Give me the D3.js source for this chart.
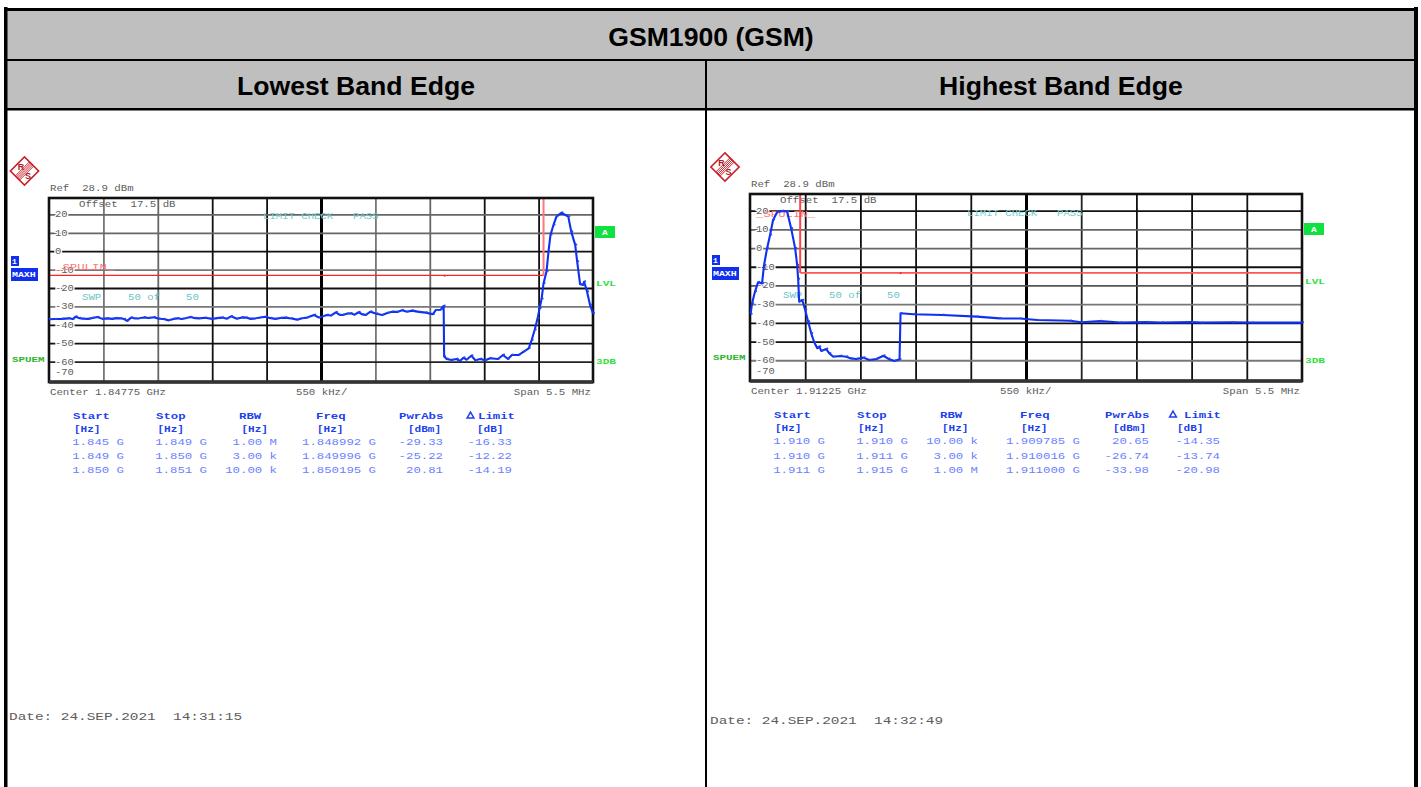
<!DOCTYPE html>
<html>
  <head>
    <meta charset="utf-8">
    <style>
      html, body {
        margin:0;
        padding:0;
        background:#fff;
      }
      svg {
        display:block;
      }
      .mono {
        font-family:"Liberation Mono", monospace;
        white-space:pre;
      }
      .head {
        font-family:"Liberation Sans", Arial, sans-serif;
        font-weight:bold;
        font-size:26.6px;
        fill:#000;
        text-anchor:middle;
      }
      .axis .domain {
        display:none;
      }
    </style>
  </head>
  <body>
    <div class="graph"></div>
    <script src="https://d3js.org/d3.v7.min.js" type="text/javascript"></script>
    <script>
      // levels, MHz / dBm
      var lowFreq = [1845.00, 1845.06, 1845.13, 1845.20, 1845.24, 1845.27, 1845.31, 1845.34, 1845.40, 1845.44,
        1845.49, 1845.54, 1845.59, 1845.64, 1845.68, 1845.72, 1845.76, 1845.79, 1845.83, 1845.87,
        1845.91, 1845.96, 1846.01, 1846.06, 1846.11, 1846.16, 1846.21, 1846.26, 1846.30, 1846.34,
        1846.38, 1846.43, 1846.48, 1846.52, 1846.58, 1846.65, 1846.70, 1846.75, 1846.80, 1846.84,
        1846.90, 1846.95, 1846.99, 1847.04, 1847.09, 1847.14, 1847.19, 1847.24, 1847.29, 1847.34,
        1847.39, 1847.45, 1847.51, 1847.56, 1847.61, 1847.68, 1847.73, 1847.77, 1847.81, 1847.85,
        1847.90, 1847.94, 1847.97, 1848.01, 1848.05, 1848.09, 1848.13, 1848.17, 1848.20, 1848.25,
        1848.31, 1848.37, 1848.42, 1848.47, 1848.52, 1848.57, 1848.62, 1848.67, 1848.74, 1848.81,
        1848.88, 1848.91, 1848.96, 1848.99,
        1848.995, 1849.02, 1849.07, 1849.12, 1849.155, 1849.19, 1849.22, 1849.27, 1849.31, 1849.36,
        1849.41, 1849.46, 1849.54, 1849.59, 1849.64, 1849.68, 1849.75, 1849.80, 1849.85, 1849.88,
        1849.91, 1849.94, 1849.96, 1849.98, 1850.00, 1850.03, 1850.05, 1850.07, 1850.10, 1850.13,
        1850.18, 1850.25, 1850.28, 1850.32, 1850.34, 1850.37, 1850.40, 1850.41, 1850.44, 1850.47, 1850.50];
      var lowLevel = [-37.0, -36.9, -36.8, -36.5, -36.9, -35.6, -36.4, -36.7, -36.8, -36.3,
        -35.8, -36.8, -36.5, -36.8, -36.4, -36.5, -36.9, -37.9, -36.1, -36.6,
        -36.5, -36.0, -36.3, -35.9, -36.7, -36.9, -37.6, -36.8, -36.5, -36.9,
        -36.5, -35.8, -36.4, -36.5, -36.2, -36.8, -36.4, -36.1, -36.7, -35.4,
        -36.7, -36.0, -36.1, -36.8, -36.5, -36.0, -35.6, -36.4, -36.8, -36.3,
        -36.1, -36.6, -37.2, -36.5, -36.1, -34.7, -36.1, -35.4, -34.7, -35.0,
        -33.2, -34.6, -34.7, -34.0, -33.8, -34.5, -33.2, -34.4, -34.7, -32.9,
        -34.0, -34.7, -33.6, -32.9, -33.0, -32.1, -32.9, -32.3, -33.0, -33.4,
        -34.3, -32.0, -31.8, -29.8,
        -57.3, -58.6, -59.1, -58.6, -59.7, -57.9, -59.0, -56.8, -59.3, -58.6,
        -59.3, -58.2, -58.6, -56.4, -58.6, -56.4, -56.4, -54.6, -52.8, -48.3,
        -42.8, -36.5, -31.1, -26.0, -17.5, -11.1, -0.3, 8.8, 14.2, 18.8,
        20.9, 18.8, 10.6, 3.4, -5.7, -18.0, -18.4, -16.6, -22.0, -29.2, -33.8];

      var highFreq = [1909.506, 1909.52, 1909.55, 1909.58, 1909.62, 1909.64, 1909.67, 1909.70, 1909.73, 1909.77,
        1909.82, 1909.87, 1909.91, 1909.95, 1909.97, 1909.98, 1909.99, 1910.02, 1910.05, 1910.08,
        1910.11, 1910.14, 1910.17, 1910.19, 1910.21, 1910.26, 1910.29, 1910.33, 1910.40, 1910.46,
        1910.50, 1910.56, 1910.63, 1910.69, 1910.76, 1910.83, 1910.88, 1910.94, 1910.99, 1911.00,
        1911.13, 1911.42, 1911.76, 1911.99, 1912.19, 1912.36, 1912.69, 1912.80, 1912.99, 1913.19,
        1913.45, 1913.60, 1913.90, 1914.00, 1914.30, 1914.50, 1915.00];
      var highLevel = [-35.3, -29.6, -23.3, -18.3, -18.9, -9.1, -0.2, 7.0, 15.0, 19.1,
        19.8, 19.5, 10.5, -0.2, -9.1, -16.6, -28.7, -27.8, -33.1, -39.4,
        -45.6, -50.4, -53.6, -52.7, -55.0, -54.0, -56.3, -58.1, -57.7, -58.1,
        -59.0, -59.3, -58.6, -59.9, -59.3, -57.6, -59.3, -60.4, -59.5, -34.9,
        -35.4, -35.8, -36.7, -37.6, -37.7, -38.5, -38.9, -39.7, -39.1, -39.8,
        -39.6, -39.8, -39.6, -39.9, -39.7, -39.9, -39.9];

      var lowLimitFreq = [1845, 1850, 1850];
      var lowLimitLevel = [-13.2, -13.2, 28.9];
      var highLimitFreq = [1910, 1910, 1915];
      var highLimitLevel = [28.9, -13.3, -13.3];
      var lowLimitMark = [1849, -13.4];
      var highLimitMark = [1911, -13.5];

      var levelTicks = [20, 10, 0, -10, -20, -30, -40, -50, -60];

      var tableHead = ["Start", "Stop", "RBW", "Freq", "PwrAbs", "Limit"];
      var tableUnit = ["[Hz]", "[Hz]", "[Hz]", "[Hz]", "[dBm]", "[dB]"];
      var lowRows = [
        ["1.845 G", "1.849 G", "1.00 M", "1.848992 G", "-29.33", "-16.33"],
        ["1.849 G", "1.850 G", "3.00 k", "1.849996 G", "-25.22", "-12.22"],
        ["1.850 G", "1.851 G", "10.00 k", "1.850195 G", "20.81", "-14.19"]
      ];
      var highRows = [
        ["1.910 G", "1.910 G", "10.00 k", "1.909785 G", "20.65", "-14.35"],
        ["1.910 G", "1.911 G", "3.00 k", "1.910016 G", "-26.74", "-13.74"],
        ["1.911 G", "1.915 G", "1.00 M", "1.911000 G", "-33.98", "-20.98"]
      ];

      var width = 1421;
      var height = 787;

      var svg = d3.select(".graph").append("svg")
        .attr("width", width)
        .attr("height", height);

      // report table around the two plots
      svg.append("rect").attr("x", 7).attr("y", 11).attr("width", 1407).attr("height", 98).attr("fill", "#bfbfbf");
      [[4, 8, 1418, 3], [4, 59, 1418, 2], [4, 108, 1418, 2.5]].forEach(function (b) {
        svg.append("rect").attr("x", b[0]).attr("y", b[1]).attr("width", b[2] - b[0]).attr("height", b[3]);
      });
      svg.append("rect").attr("x", 4).attr("y", 7).attr("width", 3.5).attr("height", height);
      svg.append("rect").attr("x", 1414).attr("y", 7).attr("width", 4).attr("height", height);
      svg.append("rect").attr("x", 705).attr("y", 60).attr("width", 2).attr("height", height);
      svg.append("text").attr("class", "head").attr("x", 711).attr("y", 46).text("GSM1900 (GSM)");
      svg.append("text").attr("class", "head").attr("x", 356).attr("y", 95).text("Lowest Band Edge");
      svg.append("text").attr("class", "head").attr("x", 1061).attr("y", 95).text("Highest Band Edge");

      // stretched screen font, the instrument text is wider than any installed mono
      function label(g, str, x, y, o) {
        o = o || {};
        var size = o.size || 9.5;
        return g.append("text")
          .attr("class", "mono")
          .attr("transform", "translate(" + x + "," + y + ") scale(" + (o.sx || 1.13) + ",1)")
          .attr("font-size", size)
          .attr("font-weight", o.bold ? "bold" : null)
          .attr("text-anchor", o.anchor || "start")
          .attr("fill", o.fill || "#5c5c5c")
          .text(str);
      }

      function drawLogo(g, cx, cy) {
        var logo = g.append("g").attr("transform", "translate(" + cx + "," + cy + ")");
        var box = logo.append("g").attr("transform", "rotate(45)");
        box.append("rect").attr("x", -10).attr("y", -10).attr("width", 20).attr("height", 20)
          .attr("fill", "#fff").attr("stroke", "#c8202a").attr("stroke-width", 1.6);
        d3.range(-2, 3).forEach(function (i) {
          box.append("line").attr("x1", i * 1.5).attr("x2", i * 1.5).attr("y1", -10).attr("y2", 10)
            .attr("stroke", "#c8202a").attr("stroke-width", 0.9);
        });
        [["R", -3.5, -1.5], ["S", 3.5, 7.5]].forEach(function (c) {
          logo.append("text").attr("x", c[1]).attr("y", c[2])
            .attr("font-family", "Liberation Sans").attr("font-weight", "bold").attr("font-size", 9)
            .attr("text-anchor", "middle").attr("fill", "#b01822").text(c[0]);
        });
      }

      function drawPlot(p) {
        var g = svg.append("g");
        var x = d3.scaleLinear().domain(p.domain).range([p.left, p.right]);
        var y = d3.scaleLinear().domain([28.9, -71.1]).range([p.top, p.bottom]);
        var h = p.bottom - p.top;
        var w = p.right - p.left;

        drawLogo(g, p.logo[0], p.logo[1]);

        label(g, "Ref  28.9 dBm", p.left + 1, p.top - 7);

        // vertical divisions
        var xTicks = d3.range(1, 10).map(function (i) {
          return p.domain[0] + i * 0.55;
        });
        var xAxis = g.append("g").attr("class", "x axis")
          .attr("transform", "translate(0," + p.bottom + ")")
          .call(d3.axisBottom(x).tickValues(xTicks).tickSize(-h).tickFormat(""));
        xAxis.selectAll(".tick line")
          .attr("stroke", function (d, i) { return p.vGrey[i]; })
          .attr("stroke-width", function (d, i) { return i == 4 ? 3 : 1.8; });

        // level divisions, label sits on a gap in its own line
        var yAxis = g.append("g").attr("class", "y axis")
          .attr("transform", "translate(" + p.left + ",0)")
          .call(d3.axisRight(y).tickValues(levelTicks).tickSize(w).tickFormat(""));
        yAxis.selectAll(".tick line")
          .attr("stroke", function (d, i) { return p.hGrey[i]; })
          .attr("stroke-width", 1.8);

        label(g, "Offset  17.5 dB", p.left + 30, p.top + 9);

        levelTicks.forEach(function (t) {
          label(g, t, p.left + 6, y(t) + 3, {sx: 1.1})
            .attr("stroke", "#fff").attr("stroke-width", 2.5).attr("paint-order", "stroke");
        });
        label(g, -70, p.left + 6, y(-70) - 5, {sx: 1.1});

        label(g, "_SPULIN_", p.spulin[0], p.spulin[1], {fill: "#f77", sx: 1.3});
        label(g, "LIMIT CHECK", p.limitText[0], p.limitText[1], {fill: "#78cccc", sx: 1.12});
        label(g, "PASS", p.limitText[0] + 90, p.limitText[1], {fill: "#78cccc", sx: 1.12});
        label(g, "SWP", p.left + 33, p.swpY, {fill: "#6cc4c4"});
        label(g, "50 of", p.left + 79, p.swpY, {fill: "#6cc4c4"});
        label(g, "50", p.left + 137, p.swpY, {fill: "#6cc4c4"});

        // limit line, the upright part came out paler on the instrument print
        var limitPts = d3.zip(p.limitFreq, p.limitLevel);
        var line = d3.line()
          .x(function (d) { return x(d[0]); })
          .y(function (d) { return y(d[1]); });
        d3.pairs(limitPts).forEach(function (seg) {
          var upright = seg[0][0] == seg[1][0];
          g.append("path").datum(seg)
            .attr("d", line).attr("fill", "none")
            .attr("stroke", upright ? p.limitUpColor : p.limitColor)
            .attr("stroke-width", upright ? 2 : p.limitWidth);
        });
        g.append("circle")
          .attr("cx", x(p.limitMark[0]))
          .attr("cy", y(p.limitMark[1]))
          .attr("r", 1)
          .attr("fill", "#f22");

        // frame
        g.append("rect").attr("x", p.left).attr("y", p.top).attr("width", w).attr("height", h)
          .attr("fill", "none").attr("stroke", "#111").attr("stroke-width", 2.6);
        g.append("line").attr("x1", p.left).attr("x2", p.right).attr("y1", p.bottom).attr("y2", p.bottom)
          .attr("stroke", "#333").attr("stroke-width", 3.5);

        // trace
        var trace = d3.zip(p.freq, p.level);
        g.append("path").datum(trace)
          .attr("d", line).attr("fill", "none")
          .attr("stroke", "#1030f0").attr("stroke-width", 2.1).attr("stroke-linejoin", "round");
        g.append("g").selectAll("circle").data(trace).enter().append("circle")
          .attr("cx", function (d) { return x(d[0]) + 1.1; })
          .attr("cy", function (d) { return y(d[1]) - 0.4; })
          .attr("r", 1)
          .attr("fill", "#2a4af5");

        // texts under the frame
        label(g, "Center " + p.center + " GHz", p.left + 1, p.bottom + 13);
        label(g, "550 kHz/", p.midLabel, p.bottom + 13);
        label(g, "Span 5.5 MHz", p.right - 2, p.bottom + 13, {anchor: "end"});

        // side softkeys
        g.append("rect").attr("x", p.side).attr("y", p.oneY).attr("width", 8).attr("height", 10).attr("fill", "#1030ee");
        label(g, "1", p.side + 1, p.oneY + 8, {fill: "#fff", bold: true, size: 8, sx: 1});
        g.append("rect").attr("x", p.side).attr("y", p.oneY + 12).attr("width", 27).attr("height", 13).attr("fill", "#1030ee");
        label(g, "MAXH", p.side + 1, p.oneY + 21, {fill: "#fff", bold: true, size: 7.5, sx: 1.32});
        label(g, "SPUEM", p.side + 1, p.spuemY, {fill: "#2db52d", bold: true, size: 7.5, sx: 1.45});
        g.append("rect").attr("x", p.right + 2).attr("y", p.aY).attr("width", 20).attr("height", 12).attr("fill", "#10e040");
        label(g, "A", p.right + 12, p.aY + 9, {fill: "#fff", bold: true, size: 8, sx: 1.2, anchor: "middle"});
        label(g, "LVL", p.right + 3, p.lvlY, {fill: "#30e040", bold: true, size: 7.5, sx: 1.48});
        label(g, "3DB", p.right + 3, p.dbY, {fill: "#30e040", bold: true, size: 7.5, sx: 1.48});

        // marker table
        var blue = "#2040ee";
        var pale = "#6a80ff";
        tableHead.forEach(function (name, i) {
          label(g, name, p.headX[i], p.tableY[0], {fill: blue, bold: true, sx: 1.3});
          label(g, tableUnit[i], p.unitX[i], p.tableY[1], {fill: blue, bold: true, sx: 1.3, size: 8.5});
        });
        g.append("path")
          .attr("d", d3.symbol().type(d3.symbolTriangle).size(20))
          .attr("transform", "translate(" + p.deltaX + "," + (p.tableY[0] - 3) + ")")
          .attr("fill", "none").attr("stroke", blue).attr("stroke-width", 1.5);
        p.rows.forEach(function (row, r) {
          row.forEach(function (val, i) {
            label(g, val, p.valEnd[i], p.tableY[2 + r], {fill: pale, sx: 1.3, anchor: "end"});
          });
        });

        label(g, p.date, p.dateX, p.dateY, {size: 11, sx: 1.31});
      }

      drawPlot({
        left: 49, right: 593, top: 198, bottom: 382,
        domain: [1845, 1850.5], center: "1.84775",
        freq: lowFreq, level: lowLevel,
        limitFreq: lowLimitFreq, limitLevel: lowLimitLevel, limitMark: lowLimitMark,
        limitColor: "#f22", limitUpColor: "#f77", limitWidth: 1.3,
        logo: [24.5, 171],
        vGrey: ["#777", "#666", "#111", "#111", "#000", "#777", "#666", "#111", "#111"],
        hGrey: ["#666", "#666", "#111", "#777", "#111", "#777", "#111", "#111", "#222"],
        spulin: [55, 270], limitText: [263, 219], swpY: 300, midLabel: 296,
        side: 11, oneY: 256, spuemY: 362, aY: 226, lvlY: 286, dbY: 364,
        headX: [73, 156, 239, 316, 399, 478], unitX: [74, 157.5, 241.5, 317, 408, 477],
        deltaX: 470.5, tableY: [419, 432, 445, 459, 473],
        valEnd: [124, 207, 277, 376, 443, 512],
        rows: lowRows,
        date: "Date: 24.SEP.2021  14:31:15", dateX: 9, dateY: 720
      });

      drawPlot({
        left: 750, right: 1302, top: 194, bottom: 381,
        domain: [1909.5, 1915], center: "1.91225",
        freq: highFreq, level: highLevel,
        limitFreq: highLimitFreq, limitLevel: highLimitLevel, limitMark: highLimitMark,
        limitColor: "#f55", limitUpColor: "#f44", limitWidth: 1.8,
        logo: [725, 167],
        vGrey: ["#111", "#111", "#111", "#111", "#000", "#222", "#111", "#111", "#111"],
        hGrey: ["#111", "#666", "#666", "#111", "#555", "#777", "#111", "#111", "#777"],
        spulin: [756, 217], limitText: [967, 216], swpY: 298, midLabel: 1000,
        side: 712, oneY: 255, spuemY: 360, aY: 223, lvlY: 284, dbY: 363,
        headX: [774, 857, 940, 1020, 1105, 1184], unitX: [775, 858, 942, 1021, 1113, 1177],
        deltaX: 1173, tableY: [418, 431, 444, 459, 473],
        valEnd: [825, 908, 978, 1080, 1149, 1220],
        rows: highRows,
        date: "Date: 24.SEP.2021  14:32:49", dateX: 710, dateY: 724
      });
    </script>
  </body>
</html>
